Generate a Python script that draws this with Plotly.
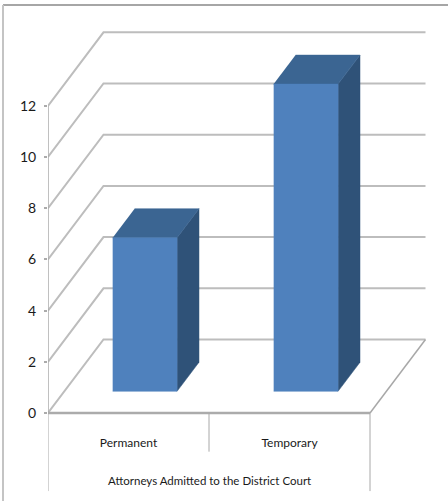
import plotly.graph_objects as go

categories = ["Permanent", "Temporary"]
values = [6, 12]
y_ticks = [0, 2, 4, 6, 8, 10, 12]
y_tick_labels = ["0", "2", "4", "6", "8", "10", "12"]
axis_title = "Attorneys Admitted to the District Court"

W, H = 448, 501
LEFT, FLOOR = 48, 413
CAT_PX, UNIT_PX = 161, 25.6
DEPTH_X, DEPTH_Y = 55.5 / CAT_PX, 73.5 / UNIT_PX
BAR_HALF, BAR_D0, BAR_D1 = 0.2, 0.295, 0.69
FONT = "Lato"
GRID = "#BDBDBD"
AXIS = "#ABABAB"
Y_LOW = -(H - FLOOR) / UNIT_PX
Y_HIGH = FLOOR / UNIT_PX


def proj(cat, val, depth):
    return cat + depth * DEPTH_X, val + depth * DEPTH_Y


def poly(points, fill=None, line=None, width=2):
    xs, ys = zip(*[proj(*p) for p in points])
    return go.Scatter(
        x=xs, y=ys, mode="lines", cliponaxis=False, hoverinfo="skip", showlegend=False,
        fill="toself" if fill else None, fillcolor=fill,
        line=dict(color=line or fill, width=width if line else 0.5),
    )


n = len(categories)
top = max(y_ticks)
fig = go.Figure()

# walls and floor
for v in y_ticks:
    fig.add_trace(poly([(0, v, 0), (0, v, 1), (n, v, 1)], line=GRID))
fig.add_trace(poly([(n, 0, 1), (n, 0, 0)], line="#A8A8A8", width=1.5))
fig.add_trace(poly([(0, 0, 0), (n, 0, 0)], line=AXIS, width=2.5))
fig.add_trace(poly([(0, 0, 0), (0, top, 0)], line=AXIS, width=1.5))

# 3D bars
for i, v in enumerate(values):
    a, b = i + 0.5 - BAR_HALF, i + 0.5 + BAR_HALF
    fig.add_trace(poly([(b, 0, BAR_D0), (b, 0, BAR_D1), (b, v, BAR_D1), (b, v, BAR_D0)], fill="#2F5278"))
    fig.add_trace(poly([(a, v, BAR_D0), (b, v, BAR_D0), (b, v, BAR_D1), (a, v, BAR_D1)], fill="#3B6592"))
    fig.add_trace(poly([(a, 0, BAR_D0), (b, 0, BAR_D0), (b, v, BAR_D0), (a, v, BAR_D0)], fill="#4F81BD"))

# category separators under the axis
for c, low in [(0, -3.05), (1, -1.51), (2, -3.05)]:
    fig.add_trace(poly([(c, 0, 0), (c, low, 0)], line="#A8A8A8", width=1))

fig.update_layout(
    width=W, height=H, autosize=False,
    margin=dict(l=LEFT, r=0, t=0, b=0, pad=0),
    paper_bgcolor="white", plot_bgcolor="white",
    font=dict(family=FONT, size=12, color="#1a1a1a"),
    showlegend=False,
    xaxis=dict(
        range=[0, (W - LEFT) / CAT_PX], tickmode="array",
        tickvals=[i + 0.5 for i in range(n)], ticktext=categories,
        showgrid=False, zeroline=False, showline=False, ticks="", ticklabelstandoff=21,
        anchor="free", position=(H - FLOOR) / H, side="bottom",
        tickfont=dict(size=12),
    ),
    yaxis=dict(
        range=[Y_LOW, Y_HIGH], tickmode="array", tickvals=y_ticks, ticktext=y_tick_labels,
        showgrid=False, zeroline=False, showline=False, ticks="outside", ticklen=3, tickwidth=1.5,
        tickcolor=AXIS, ticklabelstandoff=5, tickfont=dict(size=14),
    ),
    annotations=[dict(
        text=axis_title, x=1, y=-67.7 / UNIT_PX, xref="x", yref="y", showarrow=False,
        font=dict(size=11.5), xanchor="center", yanchor="middle",
    )],
    shapes=[
        dict(type="line", xref="paper", yref="paper", x0=-45 / (W - LEFT), x1=1, y0=1 - 5 / H, y1=1 - 5 / H,
             line=dict(color="#A6A6A6", width=2)),
        dict(type="line", xref="paper", yref="paper", x0=-45 / (W - LEFT), x1=-45 / (W - LEFT), y0=0, y1=1 - 5 / H,
             line=dict(color="#C4C4C4", width=2)),
    ],
)
fig.write_html("out.html", config=dict(displayModeBar=False),
               post_script="document.body.style.margin='0';document.body.style.overflow='hidden';")
